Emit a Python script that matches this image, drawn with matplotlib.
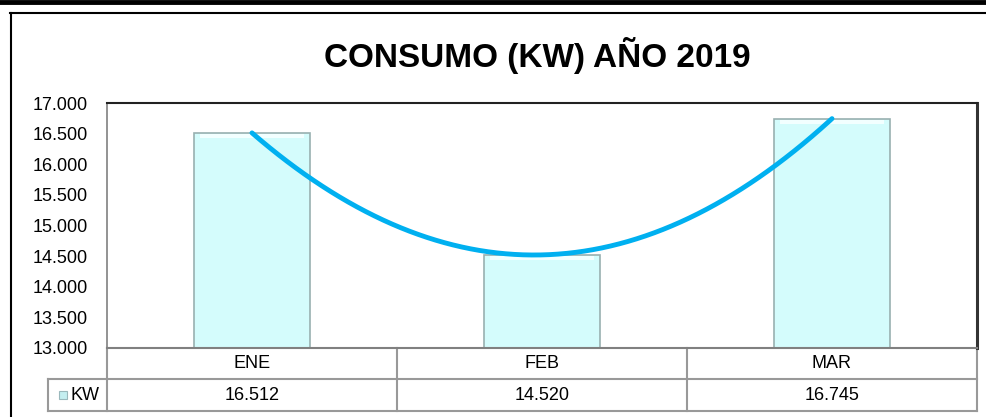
import matplotlib.pyplot as plt
import numpy as np
from matplotlib.lines import Line2D
from matplotlib.patches import Rectangle

meses = ['ENE', 'FEB', 'MAR']
kw = [16512, 14520, 16745]
yticks = [13000, 13500, 14000, 14500, 15000, 15500, 16000, 16500, 17000]

plt.rcParams['font.family'] = ['Liberation Sans', 'DejaVu Sans']

def miles(v):
    return f'{v:,.0f}'.replace(',', '.')

fig = plt.figure(figsize=(9.87, 4.17), dpi=100)
ax = fig.add_axes([107/987, 69/417, 870/987, 245/417])

x = np.arange(len(meses))
ax.bar(x, kw, width=0.4, color='#d4fcfc', edgecolor='#98b0b0', linewidth=1.2, zorder=2)
# brillo superior del bisel
ax.bar(x, [60] * 3, bottom=[v - 80 for v in kw], width=0.36, color='#f2ffff',
       linewidth=0, zorder=2)

# linea de tendencia polinomica (orden 2)
coef = np.polyfit(x, kw, 2)
xs = np.linspace(0, 2, 200)
ax.plot(xs, np.polyval(coef, xs), color='#00b0f0', linewidth=3.5, zorder=3,
        solid_capstyle='round')

ax.set_xlim(-0.5, 2.5)
ax.set_ylim(13000, 17000)
ax.set_yticks(yticks)
ax.set_yticklabels([miles(v) for v in yticks], fontsize=13)
ax.tick_params(axis='y', length=0, pad=14)
ax.set_xticks([])

ax.spines['left'].set_color('#808080')
ax.spines['bottom'].set_color('#808080')
ax.spines['top'].set_color('#222222')
ax.spines['right'].set_color('#333333')
ax.spines['right'].set_linewidth(2.2)
ax.spines['top'].set_linewidth(1.5)
ax.spines['left'].set_linewidth(1.2)
ax.spines['bottom'].set_linewidth(1.5)

# tabla de datos
tr = ax.transAxes
gris = '#999999'
h1 = -31/245
h2 = -63/245
xl = -59/870
def linea(xx, yy):
    ax.add_artist(Line2D(xx, yy, transform=tr, color=gris, linewidth=1.5, clip_on=False))
linea([xl, 1], [h1, h1])
linea([xl, 1], [h2, h2])
linea([xl, xl], [h1, h2])
for k in range(len(meses) + 1):
    linea([k / 3, k / 3], [0, h2])
for j, m in enumerate(meses):
    ax.text((j + 0.5) / 3, h1 / 2, m, transform=tr, ha='center', va='center', fontsize=13)
    ax.text((j + 0.5) / 3, (h1 + h2) / 2, miles(kw[j]), transform=tr,
            ha='center', va='center', fontsize=13)
ax.add_patch(Rectangle((-48/870, (h1 + h2) / 2 - 4/245), 8/870, 8/245, transform=tr,
                       facecolor='#c4eef0', edgecolor='#9ab8bc', linewidth=0.8, clip_on=False))
ax.text(-37/870, (h1 + h2) / 2, 'KW', transform=tr, ha='left', va='center', fontsize=13)

fig.text(537/987, 1 - 55/417, 'CONSUMO (KW) AÑO 2019', ha='center', va='center',
         fontsize=24, fontweight='bold')

# marco
fig.add_artist(Line2D([0, 1], [1 - 2/417, 1 - 2/417], color='black', linewidth=3.5))
fig.add_artist(Line2D([10/987, 1], [1 - 13/417, 1 - 13/417], color='black', linewidth=1.5))
fig.add_artist(Line2D([11/987, 11/987], [0, 1 - 13/417], color='black', linewidth=1.5))

fig.savefig('out.png', dpi=100)
